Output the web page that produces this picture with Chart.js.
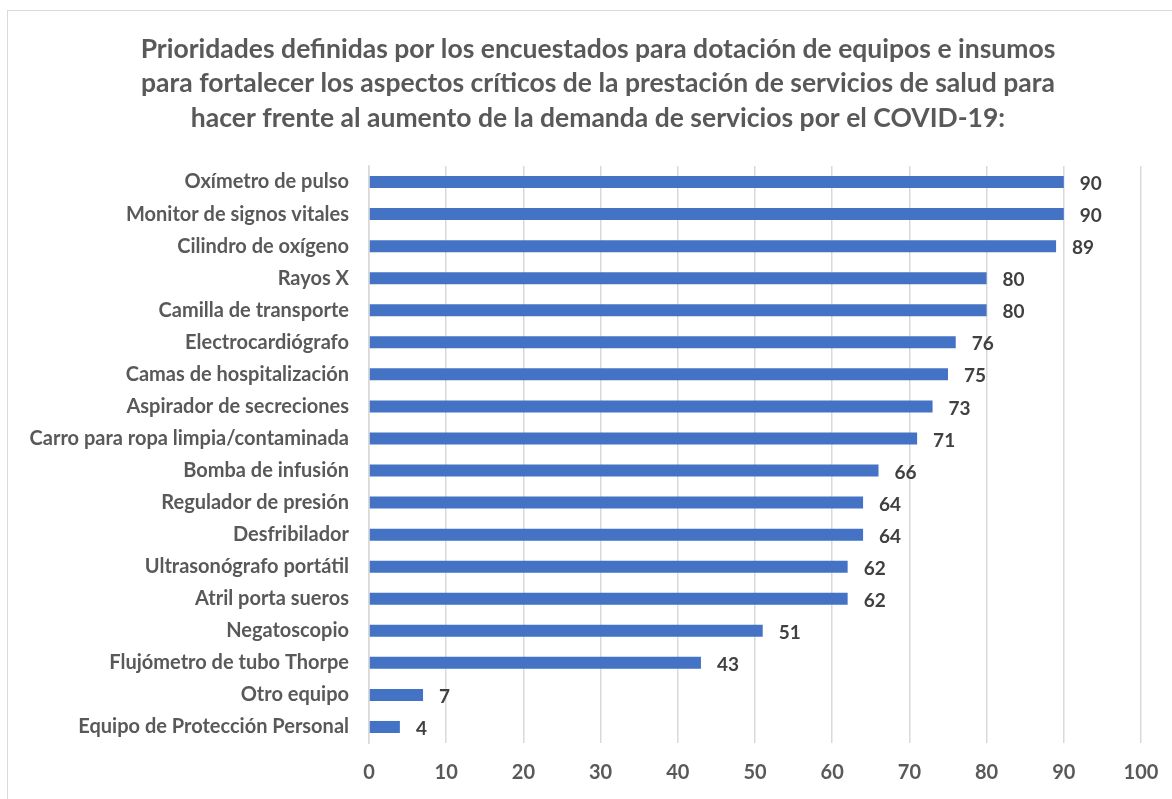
<!DOCTYPE html>
<html>
<head>
<meta charset="utf-8">
<script src="https://cdn.jsdelivr.net/npm/chart.js@4"></script>
<style>
  html, body { margin: 0; padding: 0; background: #fff; overflow: hidden; }
  #wrap { position: relative; width: 1172px; height: 799px; }
  #frame {
    position: absolute; left: 7px; top: 10px; width: 1200px; height: 820px;
    border: 1px solid #d9d9d9; box-sizing: border-box;
  }
  canvas { position: absolute; left: 0; top: 0; }
</style>
</head>
<body>
<div id="wrap">
  <div id="frame"></div>
  <canvas id="chart" width="1172" height="799"></canvas>
</div>
<script>
// Data
const categories = [
  'Oxímetro de pulso', 'Monitor de signos vitales', 'Cilindro de oxígeno',
  'Rayos X', 'Camilla de transporte', 'Electrocardiógrafo',
  'Camas de hospitalización', 'Aspirador de secreciones',
  'Carro para ropa limpia/contaminada', 'Bomba de infusión',
  'Regulador de presión', 'Desfribilador', 'Ultrasonógrafo portátil',
  'Atril porta sueros', 'Negatoscopio', 'Flujómetro de tubo Thorpe',
  'Otro equipo', 'Equipo de Protección Personal'
];
const values = [90, 90, 89, 80, 80, 76, 75, 73, 71, 66, 64, 64, 62, 62, 51, 43, 7, 4];
const xTicks = [0, 10, 20, 30, 40, 50, 60, 70, 80, 90, 100];
const titleLines = [
  'Prioridades definidas por los encuestados para dotación de equipos e insumos',
  'para fortalecer los aspectos críticos de la prestación de servicios de salud para',
  'hacer frente al aumento de la demanda de servicios por el COVID-19:'
];

const FONT = "Lato, 'Open Sans', sans-serif";

// Title drawn by hand so it can sit centred on the whole frame, not the chart box
const frameTitle = {
  id: 'frameTitle',
  beforeDraw(chart) {
    const ctx = chart.ctx;
    ctx.save();
    ctx.font = `bold 26.5px ${FONT}`;
    ctx.fillStyle = '#595959';
    ctx.textAlign = 'center';
    ctx.textBaseline = 'middle';
    titleLines.forEach((line, i) => {
      ctx.fillText(line, 598, 49 + i * 34.5);
    });
    ctx.restore();
  }
};

// Value labels at the end of each bar (no datalabels plugin offline)
const barValues = {
  id: 'barValues',
  afterDatasetsDraw(chart) {
    const ctx = chart.ctx;
    const meta = chart.getDatasetMeta(0);
    ctx.save();
    ctx.font = `bold 19px ${FONT}`;
    ctx.fillStyle = '#404040';
    ctx.textAlign = 'left';
    ctx.textBaseline = 'middle';
    meta.data.forEach((bar, i) => {
      ctx.fillText(String(values[i]), bar.x + 16, bar.y + 2);
    });
    ctx.restore();
  }
};

new Chart(document.getElementById('chart'), {
  type: 'bar',
  data: {
    labels: categories,
    datasets: [{
      data: values,
      backgroundColor: '#4472C4',
      barPercentage: 0.75,
      categoryPercentage: 0.5
    }]
  },
  options: {
    indexAxis: 'y',
    responsive: false,
    animation: false,
    layout: { padding: { top: 166, right: 31, bottom: 12, left: 0 } },
    plugins: {
      legend: { display: false },
      tooltip: { enabled: false },
      title: { display: false }
    },
    scales: {
      x: {
        min: 0,
        max: 100,
        afterBuildTicks(scale) {
          scale.ticks = xTicks.map((v) => ({ value: v }));
        },
        afterFit(scale) {
          scale.height = 44;
          // don't let the "100" label push the plot edge inwards
          scale.paddingLeft = 0;
          scale.paddingRight = 0;
        },
        grid: { color: '#d9d9d9', lineWidth: 1.5, drawTicks: false },
        border: { display: false },
        ticks: {
          color: '#595959',
          padding: 18,
          font: { family: FONT, size: 20, weight: 'bold' }
        }
      },
      y: {
        afterFit(scale) { scale.width = 369; },
        grid: { display: false, drawTicks: false },
        border: { display: true, color: '#d9d9d9', width: 1.5 },
        ticks: {
          color: '#595959',
          padding: 20,
          font: { family: FONT, size: 20, weight: 'bold' }
        }
      }
    }
  },
  plugins: [frameTitle, barValues]
});
</script>
</body>
</html>
